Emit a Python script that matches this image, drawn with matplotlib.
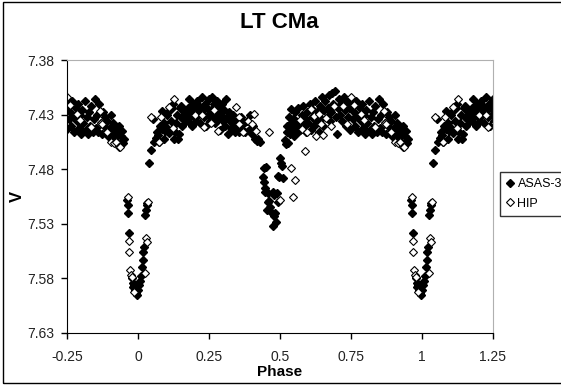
import matplotlib.pyplot as plt
from matplotlib.patches import Rectangle
import numpy as np

# fases y magnitudes (fase en [0,1))
asas_phase = [
    0.040, 0.047, 0.053, 0.058, 0.062, 0.066, 0.070, 0.074, 0.079, 0.083,
    0.086, 0.090, 0.093, 0.096, 0.099, 0.103, 0.107, 0.110, 0.115, 0.119,
    0.124, 0.128, 0.131, 0.134, 0.138, 0.141, 0.144, 0.147, 0.150, 0.153,
    0.156, 0.160, 0.165, 0.170, 0.175, 0.178, 0.181, 0.184, 0.187, 0.190,
    0.194, 0.197, 0.200, 0.204, 0.208, 0.212, 0.215, 0.219, 0.222, 0.226,
    0.230, 0.233, 0.237, 0.240, 0.244, 0.248, 0.251, 0.255, 0.258, 0.262,
    0.265, 0.268, 0.272, 0.275, 0.278, 0.282, 0.285, 0.289, 0.292, 0.296,
    0.299, 0.303, 0.306, 0.309, 0.313, 0.316, 0.320, 0.324, 0.328, 0.333,
    0.338, 0.342, 0.347, 0.352, 0.357, 0.362, 0.367, 0.372, 0.378, 0.384,
    0.390, 0.395, 0.400, 0.406, 0.412, 0.418, 0.423, 0.430,
    # eclipse secundario
    0.440, 0.442, 0.444, 0.446, 0.448, 0.451, 0.454, 0.456, 0.459, 0.462,
    0.466, 0.472, 0.474, 0.476, 0.478, 0.480, 0.483, 0.486, 0.489, 0.492,
    0.494, 0.497, 0.500, 0.504, 0.508, 0.512,
    0.517, 0.520, 0.523, 0.526, 0.528, 0.531, 0.534, 0.537, 0.540, 0.543,
    0.546, 0.549, 0.552, 0.555, 0.558, 0.562, 0.565, 0.569, 0.572, 0.576,
    0.580, 0.584, 0.588, 0.592, 0.596, 0.600, 0.604, 0.608, 0.612, 0.616,
    0.620, 0.624, 0.628, 0.632, 0.636, 0.640, 0.644, 0.648, 0.652, 0.656,
    0.660, 0.664, 0.668, 0.672, 0.676, 0.680, 0.684, 0.688, 0.692, 0.696,
    0.700, 0.704, 0.708, 0.712, 0.716, 0.720, 0.724, 0.728, 0.732, 0.736,
    0.740, 0.744, 0.748, 0.752, 0.756, 0.760, 0.764, 0.768, 0.772, 0.776,
    0.780, 0.784, 0.788, 0.792, 0.796, 0.800, 0.804, 0.808, 0.812, 0.816,
    0.820, 0.824, 0.828, 0.832, 0.836, 0.840, 0.844, 0.848, 0.852, 0.856,
    0.860, 0.864, 0.868, 0.872, 0.876, 0.880, 0.884, 0.888, 0.892, 0.896,
    0.900, 0.904, 0.908, 0.912, 0.916, 0.920, 0.924, 0.928, 0.932, 0.936,
    0.940, 0.943, 0.946, 0.949,
    # eclipse primario
    0.963, 0.964, 0.965, 0.968, 0.978, 0.981, 0.983, 0.986, 0.988, 0.991,
    0.994, 0.997, 0.001, 0.004, 0.007, 0.010, 0.013, 0.017, 0.019, 0.021,
    0.026, 0.028, 0.030, 0.032,
]
asas_v = [
    7.474, 7.462, 7.434, 7.455, 7.451, 7.446, 7.449, 7.455, 7.440, 7.443,
    7.427, 7.438, 7.452, 7.445, 7.441, 7.430, 7.428, 7.447, 7.436, 7.424,
    7.420, 7.452, 7.446, 7.438, 7.430, 7.452, 7.448, 7.424, 7.432, 7.422,
    7.440, 7.434, 7.428, 7.436, 7.424, 7.432, 7.416, 7.438, 7.428, 7.440,
    7.420, 7.432, 7.426, 7.436, 7.418, 7.430, 7.422, 7.438, 7.428, 7.414,
    7.426, 7.432, 7.420, 7.440, 7.424, 7.430, 7.416, 7.436, 7.426, 7.414,
    7.432, 7.420, 7.438, 7.428, 7.418, 7.434, 7.424, 7.444, 7.430, 7.420,
    7.436, 7.426, 7.440, 7.416, 7.432, 7.448, 7.428, 7.436, 7.442, 7.430,
    7.438, 7.446, 7.434, 7.440, 7.446, 7.432, 7.444, 7.438, 7.446, 7.436,
    7.444, 7.430, 7.448, 7.440, 7.452, 7.454, 7.452, 7.455,
    7.487, 7.492, 7.479, 7.497, 7.501, 7.478, 7.517, 7.502, 7.510, 7.509,
    7.515, 7.520, 7.501, 7.532, 7.523, 7.504, 7.520, 7.528, 7.502, 7.510,
    7.486, 7.487, 7.470, 7.474, 7.477, 7.488,
    7.453, 7.457, 7.446, 7.440, 7.456, 7.432, 7.448, 7.438, 7.425, 7.444,
    7.434, 7.450, 7.428, 7.440, 7.436, 7.446, 7.424, 7.438, 7.444, 7.430,
    7.422, 7.440, 7.434, 7.446, 7.428, 7.438, 7.420, 7.444, 7.432, 7.426,
    7.440, 7.418, 7.436, 7.428, 7.446, 7.422, 7.434, 7.414, 7.440, 7.426,
    7.418, 7.432, 7.424, 7.412, 7.436, 7.428, 7.410, 7.420, 7.408, 7.432,
    7.448, 7.424, 7.416, 7.430, 7.420, 7.436, 7.414, 7.426, 7.440, 7.418,
    7.432, 7.424, 7.444, 7.420, 7.434, 7.428, 7.440, 7.418, 7.432, 7.446,
    7.424, 7.436, 7.420, 7.442, 7.430, 7.448, 7.426, 7.438, 7.418, 7.444,
    7.432, 7.448, 7.428, 7.440, 7.422, 7.446, 7.434, 7.416, 7.442, 7.430,
    7.446, 7.420, 7.438, 7.448, 7.428, 7.440, 7.432, 7.446, 7.436, 7.450,
    7.442, 7.430, 7.448, 7.438, 7.452, 7.444, 7.454, 7.448, 7.440, 7.456,
    7.450, 7.445, 7.456, 7.452,
    7.508, 7.513, 7.520, 7.538, 7.580, 7.584, 7.588, 7.586, 7.591, 7.589,
    7.593, 7.595, 7.591, 7.586, 7.582, 7.578, 7.570, 7.563, 7.556, 7.551,
    7.522, 7.517, 7.513, 7.511,
]

hip_phase = [
    0.046, 0.074, 0.080, 0.109, 0.122, 0.127, 0.200, 0.225, 0.232, 0.257,
    0.267, 0.282, 0.345, 0.355, 0.357, 0.370, 0.389, 0.403, 0.408, 0.414,
    0.461, 0.499, 0.537, 0.545, 0.552, 0.588,
    0.571, 0.577, 0.596, 0.609, 0.621, 0.628, 0.636, 0.646, 0.653, 0.662,
    0.678, 0.690, 0.722, 0.735, 0.750, 0.760, 0.785, 0.797, 0.835, 0.866,
    0.870, 0.873, 0.892, 0.904, 0.917, 0.923, 0.932, 0.936,
    0.965, 0.967, 0.968, 0.972, 0.976, 0.980, 0.985, 0.024, 0.028, 0.030,
    0.034,
]
hip_v = [
    7.432, 7.455, 7.432, 7.423, 7.442, 7.416, 7.430, 7.430, 7.441, 7.438,
    7.426, 7.445, 7.423, 7.432, 7.439, 7.446, 7.436, 7.439, 7.429, 7.445,
    7.446, 7.508, 7.479, 7.505, 7.490, 7.463,
    7.435, 7.443, 7.446, 7.425, 7.431, 7.450, 7.429, 7.439, 7.449, 7.433,
    7.440, 7.422, 7.422, 7.439, 7.414, 7.421, 7.429, 7.435, 7.441, 7.427,
    7.438, 7.439, 7.446, 7.455, 7.456, 7.455, 7.460, 7.460,
    7.505, 7.546, 7.556, 7.572, 7.577, 7.579, 7.592, 7.575, 7.543, 7.547,
    7.510,
]

xticks = [-0.25, 0, 0.25, 0.5, 0.75, 1, 1.25]
xlabels = ['-0.25', '0', '0.25', '0.5', '0.75', '1', '1.25']
yticks = [7.38, 7.43, 7.48, 7.53, 7.58, 7.63]


def extender(fase, mag):
    # repetir el ciclo para cubrir -0.25 .. 1.25
    fase = np.array(fase)
    mag = np.array(mag)
    f = np.concatenate([fase, fase - 1, fase + 1])
    m = np.concatenate([mag, mag, mag])
    sel = (f >= -0.26) & (f <= 1.26)
    return f[sel], m[sel]


plt.rcParams['font.family'] = ['Liberation Sans', 'DejaVu Sans']

fig = plt.figure(figsize=(5.61, 3.85), dpi=100)
ax = fig.add_axes([67 / 561, 1 - 333 / 385, 426 / 561, 273 / 385])

fa, ma = extender(asas_phase, asas_v)
fh, mh = extender(hip_phase, hip_v)
ax.plot(fa, ma, 'D', color='black', markersize=4.5, linestyle='none',
        label='ASAS-3')
ax.plot(fh, mh, 'D', markerfacecolor='white', markeredgecolor='black',
        markeredgewidth=0.8, markersize=4.3, linestyle='none', label='HIP')

ax.set_xlim(-0.25, 1.25)
ax.set_ylim(7.63, 7.38)
ax.set_xticks(xticks)
ax.set_xticklabels(xlabels)
ax.set_yticks(yticks)
ax.set_yticklabels(['%.2f' % y for y in yticks])
ax.tick_params(direction='out', length=4, width=1, labelsize=10,
               colors='black', labelcolor='#222222')
ax.tick_params(axis='x', pad=8)
ax.tick_params(axis='y', pad=5)

for lado in ['top', 'right']:
    ax.spines[lado].set_color('#b0b0b0')
for lado in ['left', 'bottom']:
    ax.spines[lado].set_color('black')

ax.set_xlabel('Phase', fontsize=11, fontweight='bold', labelpad=1)
ax.set_ylabel('V', fontsize=12, fontweight='bold', labelpad=2)
fig.text(279 / 561, 1 - 23 / 385, 'LT CMa', ha='center', va='center',
         fontsize=16, fontweight='bold')

leg = ax.legend(loc='upper left', bbox_to_anchor=(500 / 561, 1 - 172 / 385),
                bbox_transform=fig.transFigure, fontsize=9, frameon=True,
                fancybox=False, edgecolor='black', handlelength=0.6,
                handletextpad=0.3, borderpad=0.5, labelspacing=0.6,
                borderaxespad=0)
leg.get_frame().set_linewidth(1.0)

fig.patches.append(Rectangle((3 / 561, 2 / 385), 1.0, 381 / 385,
                             transform=fig.transFigure, fill=False,
                             edgecolor='black', linewidth=1.0))

fig.savefig('out.png', dpi=100)
